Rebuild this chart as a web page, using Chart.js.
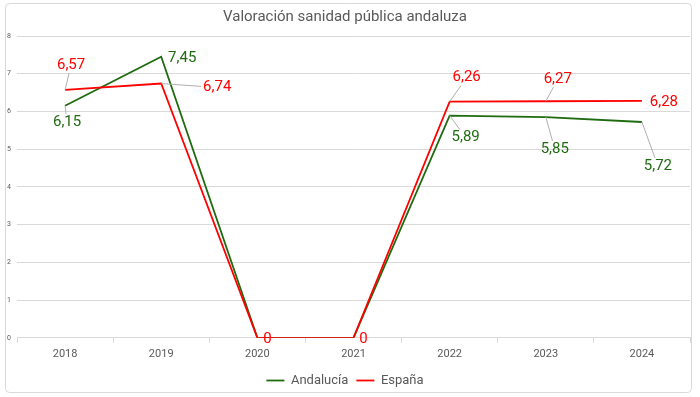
<!DOCTYPE html>
<html>
<head>
<meta charset="utf-8">
<script src="https://cdn.jsdelivr.net/npm/chart.js@4"></script>
<style>
  html, body { margin: 0; padding: 0; background: #fff; }
  #wrap { width: 700px; height: 397px; position: relative; }
</style>
</head>
<body>
<div id="wrap"><canvas id="chart" width="700" height="397"></canvas></div>
<script>
// ========================
// DATA
// ========================
const years = ["2018", "2019", "2020", "2021", "2022", "2023", "2024"];
const andalucia = [6.15, 7.45, 0, 0, 5.89, 5.85, 5.72];
const espana = [6.57, 6.74, 0, 0, 6.26, 6.27, 6.28];
const yTicks = [0, 1, 2, 3, 4, 5, 6, 7, 8];

const GREEN = "#1f6b0f";
const RED = "#ff0000";
const FONT = "Roboto, 'Liberation Sans', sans-serif";

// label placement relative to each point (dx, dy), null = hidden
const labelOffsets = [
  [[2, 16], [21, 2], null, null, [16, 22], [9, 32], [16, 44]],
  [[6, -25], [56, 4], [10, 1], [10, 1], [17, -24], [12, -22], [22, 1]]
];

// ========================
// PLUGINS
// ========================
const framePlugin = {
  id: "frame",
  beforeDraw(chart) {
    const ctx = chart.ctx;
    ctx.save();
    ctx.fillStyle = "#fff";
    ctx.fillRect(0, 0, chart.width, chart.height);
    ctx.strokeStyle = "#d9d9d9";
    ctx.lineWidth = 1;
    ctx.beginPath();
    ctx.roundRect(5.5, 3.5, 686, 389, 4);
    ctx.stroke();
    ctx.restore();
  }
};

const valueLabels = {
  id: "valueLabels",
  afterDatasetsDraw(chart) {
    const ctx = chart.ctx;
    ctx.save();
    ctx.font = "15px " + FONT;
    ctx.textAlign = "center";
    ctx.textBaseline = "middle";
    chart.data.datasets.forEach((ds, di) => {
      const meta = chart.getDatasetMeta(di);
      meta.data.forEach((pt, i) => {
        const off = labelOffsets[di][i];
        if (!off) return;
        const text = String(ds.data[i]).replace(".", ",");
        const lx = pt.x + off[0];
        const ly = pt.y + off[1];
        const hw = ctx.measureText(text).width / 2 + 2;
        const hh = 8;
        // leader line: from point toward label centre, stop at label box edge
        const dx = pt.x - lx, dy = pt.y - ly;
        const t = Math.min(dx ? hw / Math.abs(dx) : Infinity, dy ? hh / Math.abs(dy) : Infinity);
        const ex = lx + dx * t, ey = ly + dy * t;
        if (t < 1 && Math.hypot(ex - pt.x, ey - pt.y) > 8) {
          ctx.strokeStyle = "#b0b0b0";
          ctx.lineWidth = 1;
          ctx.beginPath();
          ctx.moveTo(pt.x, pt.y);
          ctx.lineTo(ex, ey);
          ctx.stroke();
        }
        ctx.fillStyle = ds.borderColor;
        ctx.fillText(text, lx, ly);
      });
    });
    ctx.restore();
  }
};

// ========================
// CHART
// ========================
new Chart(document.getElementById("chart"), {
  type: "line",
  data: {
    labels: years,
    datasets: [
      {
        label: "Andalucía",
        data: andalucia,
        borderColor: GREEN,
        backgroundColor: GREEN,
        borderWidth: 1.8,
        pointRadius: 0,
        tension: 0,
        order: 1
      },
      {
        label: "España",
        data: espana,
        borderColor: RED,
        backgroundColor: RED,
        borderWidth: 1.8,
        pointRadius: 0,
        tension: 0,
        order: 0
      }
    ]
  },
  options: {
    responsive: false,
    animation: false,
    layout: { padding: { top: 0, right: 10, bottom: 0, left: 0 } },
    plugins: {
      title: {
        display: true,
        text: "Valoración sanidad pública andaluza",
        color: "#595959",
        font: { family: FONT, size: 15, weight: "normal" },
        padding: { top: 8, bottom: 10 }
      },
      legend: {
        position: "bottom",
        labels: {
          color: "#595959",
          font: { family: FONT, size: 13 },
          usePointStyle: true,
          pointStyle: "line",
          pointStyleWidth: 18,
          padding: 8,
          sort: (a, b) => a.datasetIndex - b.datasetIndex
        }
      },
      tooltip: { enabled: false }
    },
    scales: {
      x: {
        offset: true,
        grid: {
          offset: true,
          drawOnChartArea: false,
          drawTicks: true,
          tickLength: 5,
          color: "#d9d9d9"
        },
        border: { color: "#d9d9d9" },
        ticks: {
          color: "#595959",
          font: { family: FONT, size: 11 },
          padding: 5,
          maxRotation: 0
        }
      },
      y: {
        min: 0,
        max: 8,
        afterBuildTicks: scale => {
          scale.ticks = yTicks.map(v => ({ value: v }));
        },
        afterFit: scale => { scale.width = 17; },
        grid: { color: "#d9d9d9", drawTicks: false },
        border: { display: false },
        ticks: {
          color: "#595959",
          font: { family: FONT, size: 7 },
          padding: 6
        }
      }
    }
  },
  plugins: [framePlugin, valueLabels]
});
</script>
</body>
</html>
